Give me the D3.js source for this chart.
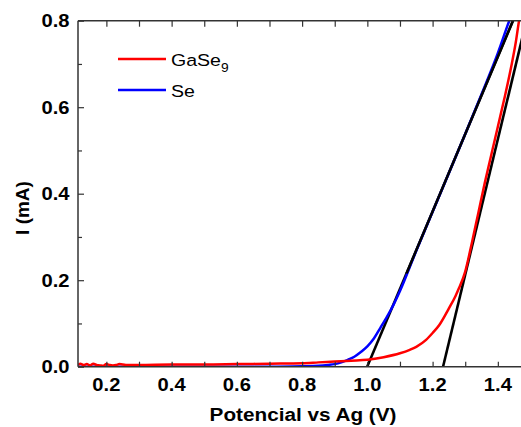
<!DOCTYPE html>
<html>
<head>
<meta charset="utf-8">
<script src="https://cdn.jsdelivr.net/npm/d3@7"></script>
<style>
  body { margin: 0; background: #fff; }
  text { font-family: Arial, "Liberation Sans", sans-serif; }
</style>
</head>
<body>
<div id="chart"></div>
<script>
// GaSe9 curve (V, mA)
const gaseV = [0.113, 0.12, 0.13, 0.14, 0.15, 0.16, 0.17, 0.18, 0.19, 0.2, 0.21, 0.22, 0.23, 0.24, 0.26, 0.3, 0.4, 0.5, 0.6, 0.7, 0.8, 0.85, 0.9, 0.95, 1.0, 1.05, 1.1, 1.13, 1.15, 1.18, 1.2, 1.22, 1.25, 1.27, 1.28, 1.3, 1.32, 1.34, 1.36, 1.38, 1.40, 1.42, 1.44, 1.455, 1.465, 1.475]
const gaseI = [0.004, 0.007, 0.004, 0.006, 0.003, 0.007, 0.004, 0.003, 0.002, 0.006, 0.004, 0.003, 0.004, 0.006, 0.004, 0.004, 0.005, 0.005, 0.006, 0.007, 0.008, 0.010, 0.012, 0.014, 0.016, 0.022, 0.031, 0.039, 0.046, 0.062, 0.078, 0.096, 0.135, 0.163, 0.18, 0.22, 0.285, 0.355, 0.425, 0.49, 0.555, 0.62, 0.69, 0.75, 0.80, 0.84]
// Se curve (V, mA)
const seV = [0.113, 0.3, 0.5, 0.7, 0.8, 0.85, 0.88, 0.9, 0.92, 0.94, 0.96, 0.98, 1.0, 1.02, 1.04, 1.06, 1.08, 1.1, 1.15, 1.2, 1.25, 1.3, 1.35, 1.4, 1.435, 1.46]
const seI = [0.0, 0.0, 0.0, 0.0, 0.001, 0.002, 0.004, 0.006, 0.010, 0.016, 0.023, 0.034, 0.047, 0.065, 0.090, 0.115, 0.143, 0.175, 0.268, 0.358, 0.448, 0.538, 0.630, 0.725, 0.800, 0.85]
// tangent lines: [x at I=0, slope mA/V]
const tangentX0 = [0.9995, 1.232]
const tangentSlope = [1.79, 3.13]

const seriesNames = ["GaSe", "Se"]
const seriesColors = ["#ff0000", "#0000ff"]
const xTicks = [0.2, 0.4, 0.6, 0.8, 1.0, 1.2, 1.4]
const yTicks = [0.0, 0.2, 0.4, 0.6, 0.8]

const W = 521, H = 427
const margin = { left: 78, top: 20, right: 0, bottom: 60 }
const axisColor = "#333"
const stretch = 1.12

let svg = d3.select("#chart").append("svg")
    .attr("width", W).attr("height", H)
    .style("background-color", "#fff")

let x = d3.scaleLinear().domain([0.113, 1.471]).range([margin.left, W])
let y = d3.scaleLinear().domain([0, 0.8]).range([366.7, 20.7])

svg.append("clipPath").attr("id", "clip")
    .append("rect").attr("x", margin.left).attr("y", 20)
    .attr("width", W - margin.left).attr("height", 366.7 - 20)

let plot = svg.append("g").attr("clip-path", "url(#clip)")

const line = d3.line().x(d => x(d[0])).y(d => y(d[1]))
const smooth = d3.line().x(d => x(d[0])).y(d => y(d[1])).curve(d3.curveMonotoneX)

let gaseData = gaseV.map((v, i) => [v, gaseI[i]])
let seData = seV.map((v, i) => [v, seI[i]])

// tangent lines (under the data lines)
for (let k = 0; k < tangentX0.length; k++) {
    let x0 = tangentX0[k], s = tangentSlope[k]
    plot.append("path")
        .attr("d", line([[x0, 0], [1.6, (1.6 - x0) * s]]))
        .attr("fill", "none").attr("stroke", "#000").attr("stroke-width", 2.6)
}

plot.append("path").attr("d", smooth(seData))
    .attr("fill", "none").attr("stroke", seriesColors[1]).attr("stroke-width", 2.5)
plot.append("path").attr("d", smooth(gaseData))
    .attr("fill", "none").attr("stroke", seriesColors[0]).attr("stroke-width", 2.5)

// black tangent over the blue in the linear part
{
    let x0 = tangentX0[0], s = tangentSlope[0], xs = 1.12
    plot.append("path")
        .attr("d", line([[xs, (xs - x0) * s], [1.6, (1.6 - x0) * s]]))
        .attr("fill", "none").attr("stroke", "#000").attr("stroke-width", 2.4)
}

// axes
let xMinor = d3.range(0.2, 1.5, 0.1).map(v => +v.toFixed(1))
let yMinor = d3.range(0.1, 0.8, 0.2).map(v => +v.toFixed(1))

let gx = svg.append("g").attr("transform", "translate(0," + y(0) + ")")
    .call(d3.axisBottom(x).tickValues(xMinor).tickSize(-5).tickFormat(""))
gx.select(".domain").remove()
gx.selectAll("line").attr("stroke", axisColor).attr("stroke-width", 1.2)

let gxTop = svg.append("g").attr("transform", "translate(0," + y(0.8) + ")")
    .call(d3.axisTop(x).tickValues(xMinor).tickSize(-6).tickFormat(""))
gxTop.select(".domain").remove()
gxTop.selectAll("line").attr("stroke", axisColor).attr("stroke-width", 1.2)

svg.selectAll(".xlab").data(xTicks).enter().append("text")
    .attr("transform", d => "translate(" + x(d) + ",390.5) scale(" + stretch + ",1)")
    .attr("text-anchor", "middle").attr("font-size", 18).attr("font-weight", "bold")
    .text(d => d.toFixed(1))

let gy = svg.append("g").attr("transform", "translate(" + margin.left + ",0)")
    .call(d3.axisLeft(y).tickValues(yTicks).tickSize(-6).tickFormat(""))
gy.select(".domain").remove()
gy.selectAll("line").attr("stroke", axisColor).attr("stroke-width", 1.2)
let gyMinor = svg.append("g").attr("transform", "translate(" + margin.left + ",0)")
    .call(d3.axisLeft(y).tickValues(yMinor).tickSize(-4).tickFormat(""))
gyMinor.select(".domain").remove()
gyMinor.selectAll("line").attr("stroke", axisColor).attr("stroke-width", 1.2)

svg.selectAll(".ylab").data(yTicks).enter().append("text")
    .attr("transform", d => "translate(69.5," + (y(d) + 6.6) + ") scale(" + stretch + ",1)")
    .attr("text-anchor", "end").attr("font-size", 18).attr("font-weight", "bold")
    .text(d => d.toFixed(1))

// frame lines: left, bottom, top
svg.append("line").attr("x1", margin.left).attr("x2", margin.left).attr("y1", y(0.8)).attr("y2", y(0))
    .attr("stroke", axisColor).attr("stroke-width", 1.5)
svg.append("line").attr("x1", margin.left).attr("x2", W).attr("y1", y(0)).attr("y2", y(0))
    .attr("stroke", axisColor).attr("stroke-width", 1.5)
svg.append("line").attr("x1", margin.left).attr("x2", W).attr("y1", y(0.8)).attr("y2", y(0.8))
    .attr("stroke", axisColor).attr("stroke-width", 1.5)

// axis titles
svg.append("text").attr("transform", "translate(303,421) scale(" + stretch + ",1)")
    .attr("text-anchor", "middle").attr("font-size", 18.5).attr("font-weight", "bold")
    .text("Potencial vs Ag (V)")
svg.append("text").attr("transform", "translate(29,208) rotate(-90)")
    .attr("text-anchor", "middle").attr("font-size", 19).attr("font-weight", "bold")
    .text("I (mA)")

// legend
let legend = svg.append("g")
for (let i = 0; i < seriesNames.length; i++) {
    let ly = 59 + i * 31
    legend.append("line").attr("x1", 118).attr("x2", 166).attr("y1", ly).attr("y2", ly)
        .attr("stroke", seriesColors[i]).attr("stroke-width", 2.5)
    let t = legend.append("text").attr("transform", "translate(171," + (ly + 6.5) + ") scale(1.15,1)")
        .attr("font-size", 17)
    t.append("tspan").text(seriesNames[i])
    if (i === 0) t.append("tspan").attr("dy", 6).attr("font-size", 12).text("9")
}
</script>
</body>
</html>
